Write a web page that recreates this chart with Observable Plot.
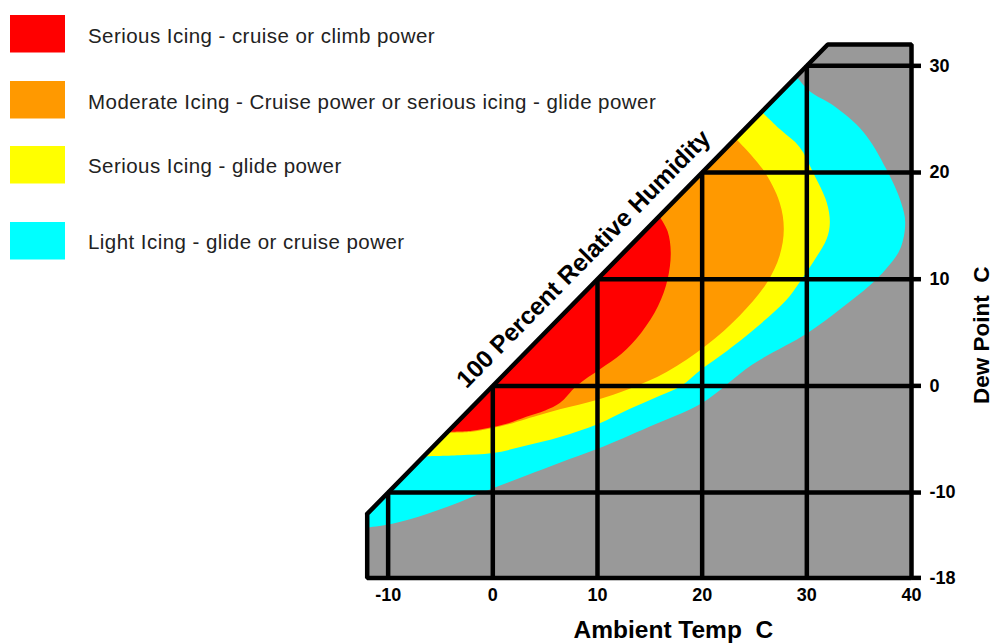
<!DOCTYPE html>
<html><head><meta charset="utf-8">
<script src="https://cdn.jsdelivr.net/npm/d3@7"></script>
<script src="https://cdn.jsdelivr.net/npm/@observablehq/plot@0.6"></script>
<style>
body{margin:0;background:#fff;}
#wrap{position:relative;width:994px;height:643px;font-family:"Liberation Sans",Arial,sans-serif;}
#wrap svg{position:absolute;left:0;top:0;overflow:visible;}
#wrap svg text{white-space:pre;}
g[aria-label="x-axis tick label"], g[aria-label="y-axis tick label"]{font-size:18px;font-weight:bold;}
</style></head><body><div id="wrap"></div>
<script>
// Axis ticks and grid
const xTicks = [-10, 0, 10, 20, 30, 40];
const yTicks = [-18, -10, 0, 10, 20, 30];
const xGrid = [-10, 0, 10, 20, 30];
const yGrid = [-10, 0, 10, 20, 30];
// Chart frame (ambient temp, dew point), top-left edge is the 100% RH line
const frameT = [-12, 32, 40, 40, -12, -12];
const frameD = [-12, 32, 32, -18, -18, -12];
// Region outer boundaries (ambient temp, dew point)
const cyanT = [29.0, 30.3, 32.5, 35.4, 37.6, 39.0, 39.4, 38.9, 37.6, 36.0, 33.2, 30.0, 24.8, 20.0, 15.0, 10.0, 6.4, 3.2, 0.0, -3.2, -6.3, -9.5, -12.0, -13.0, -13.0];
const cyanD = [29.0, 27.6, 26.3, 23.8, 20.3, 17.2, 15.3, 12.8, 11.0, 9.4, 7.2, 4.9, 2.0, -1.6, -3.8, -5.9, -7.2, -8.4, -9.6, -10.9, -12.0, -12.9, -13.3, -13.5, -13.0];
const yellowT = [25.7, 27.5, 29.3, 30.6, 31.9, 32.2, 31.9, 30.6, 29.3, 28.0, 25.2, 22.0, 20.0, 18.0, 16.0, 13.0, 10.0, 6.4, 3.2, 0.0, -3.2, -6.6];
const yellowD = [25.7, 24.0, 22.4, 20.0, 17.2, 15.3, 13.8, 11.6, 9.7, 8.0, 5.5, 3.0, 1.6, 0.0, -0.9, -2.2, -3.6, -4.8, -5.6, -6.3, -6.5, -6.6];
const orangeT = [23.2, 25.8, 27.4, 27.8, 27.4, 26.2, 23.6, 20.4, 16.6, 13.0, 10.0, 6.4, 3.2, 1.5, 0.0, -2.0, -4.4];
const orangeD = [23.2, 20.3, 17.2, 14.7, 12.2, 9.7, 6.6, 3.8, 1.3, -0.3, -1.3, -2.2, -3.1, -3.6, -3.95, -4.3, -4.4];
const redT = [15.9, 16.7, 17.0, 16.7, 15.8, 14.2, 12.3, 10.3, 8.0, 6.4, 5.0, 3.2, 1.5, 0.0, -2.0, -4.3];
const redD = [15.9, 14.5, 12.5, 10.0, 7.5, 5.0, 3.0, 1.6, 0.0, -1.6, -2.3, -2.9, -3.5, -3.85, -4.2, -4.3];
// Legend
const legendLabels = [
  "Serious Icing - cruise or climb power",
  "Moderate Icing - Cruise power or serious icing - glide power",
  "Serious Icing - glide power",
  "Light Icing - glide or cruise power"
];
const legendColors = ["#ff0000", "#ff9900", "#ffff00", "#00ffff"];
const rhLabel = [{text: "100 Percent Relative Humidity", t: 10.3}];
const xTitle = "Ambient Temp  C";
const yTitle = "Dew Point  C";

const pts = (T, D) => T.map((t, i) => ({t, d: D[i]}));
const region = (T, D, color) => Plot.line(pts(T, D), {x: "t", y: "d", fill: color, stroke: "none", curve: "catmull-rom", clip: "frame"});
const fmt = d => String(d);

const chart = Plot.plot({
  width: 994, height: 643,
  marginLeft: 366.7, marginRight: 83, marginTop: 44, marginBottom: 65.6,
  style: {fontFamily: '"Liberation Sans", Arial, sans-serif', color: "#000", background: "transparent"},
  x: {domain: [-12, 40]},
  y: {domain: [-18, 32]},
  marks: [
    Plot.line(pts(frameT, frameD), {x: "t", y: "d", fill: "#999999", stroke: "none"}),
    region(cyanT, cyanD, "#00ffff"),
    region(yellowT, yellowD, "#ffff00"),
    region(orangeT, orangeD, "#ff9900"),
    region(redT, redD, "#ff0000"),
    Plot.ruleX(xGrid, {x: d => d, y1: -18, y2: d => d, stroke: "#000", strokeWidth: 4.5}),
    Plot.ruleY(yGrid, {y: d => d, x1: d => d, x2: 40, stroke: "#000", strokeWidth: 4.5}),
    Plot.line(pts(frameT, frameD), {x: "t", y: "d", stroke: "#000", strokeWidth: 4.5, strokeLinejoin: "miter"}),
    Plot.axisY({anchor: "right", ticks: yTicks, tickFormat: fmt, tickSize: 9, tickPadding: 9, strokeWidth: 4.5, fontSize: 18, fontWeight: "bold", label: null, textAnchor: "start"}),
    Plot.axisX({anchor: "bottom", ticks: xTicks, tickFormat: fmt, tickSize: 0, tickPadding: 10, fontSize: 18, fontWeight: "bold", label: null}),
    Plot.text(rhLabel, {x: "t", y: "t", text: "text", rotate: -45.5, dx: -17, dy: -17, fontSize: 24.5, fontWeight: "bold", textAnchor: "middle", lineAnchor: "middle"}),
    Plot.text([xTitle], {frameAnchor: "bottom", dx: 34, dy: 52, fontSize: 24.5, fontWeight: "bold", textAnchor: "middle", lineAnchor: "middle"}),
    Plot.text([yTitle], {frameAnchor: "right", rotate: -90, dx: 70, dy: 24, fontSize: 22.5, fontWeight: "bold", textAnchor: "middle", lineAnchor: "middle"})
  ]
});
document.getElementById("wrap").appendChild(chart);

// Legend overlay (top-left)
const legendTop = [15, 81, 146, 222];
const legendBase = [42.5, 109, 173, 249];
const lg = d3.select("#wrap").append("svg").attr("width", 994).attr("height", 270).style("pointer-events", "none");
legendLabels.forEach((lab, i) => {
  lg.append("rect").attr("x", 10).attr("y", legendTop[i]).attr("width", 55).attr("height", 37.5).attr("fill", legendColors[i]);
  lg.append("text").attr("x", 88).attr("y", legendBase[i]).attr("font-size", 20.5).attr("letter-spacing", 0.45)
    .attr("fill", "#222").attr("font-family", '"Liberation Sans", Arial, sans-serif').text(lab);
});
</script>
</body></html>
